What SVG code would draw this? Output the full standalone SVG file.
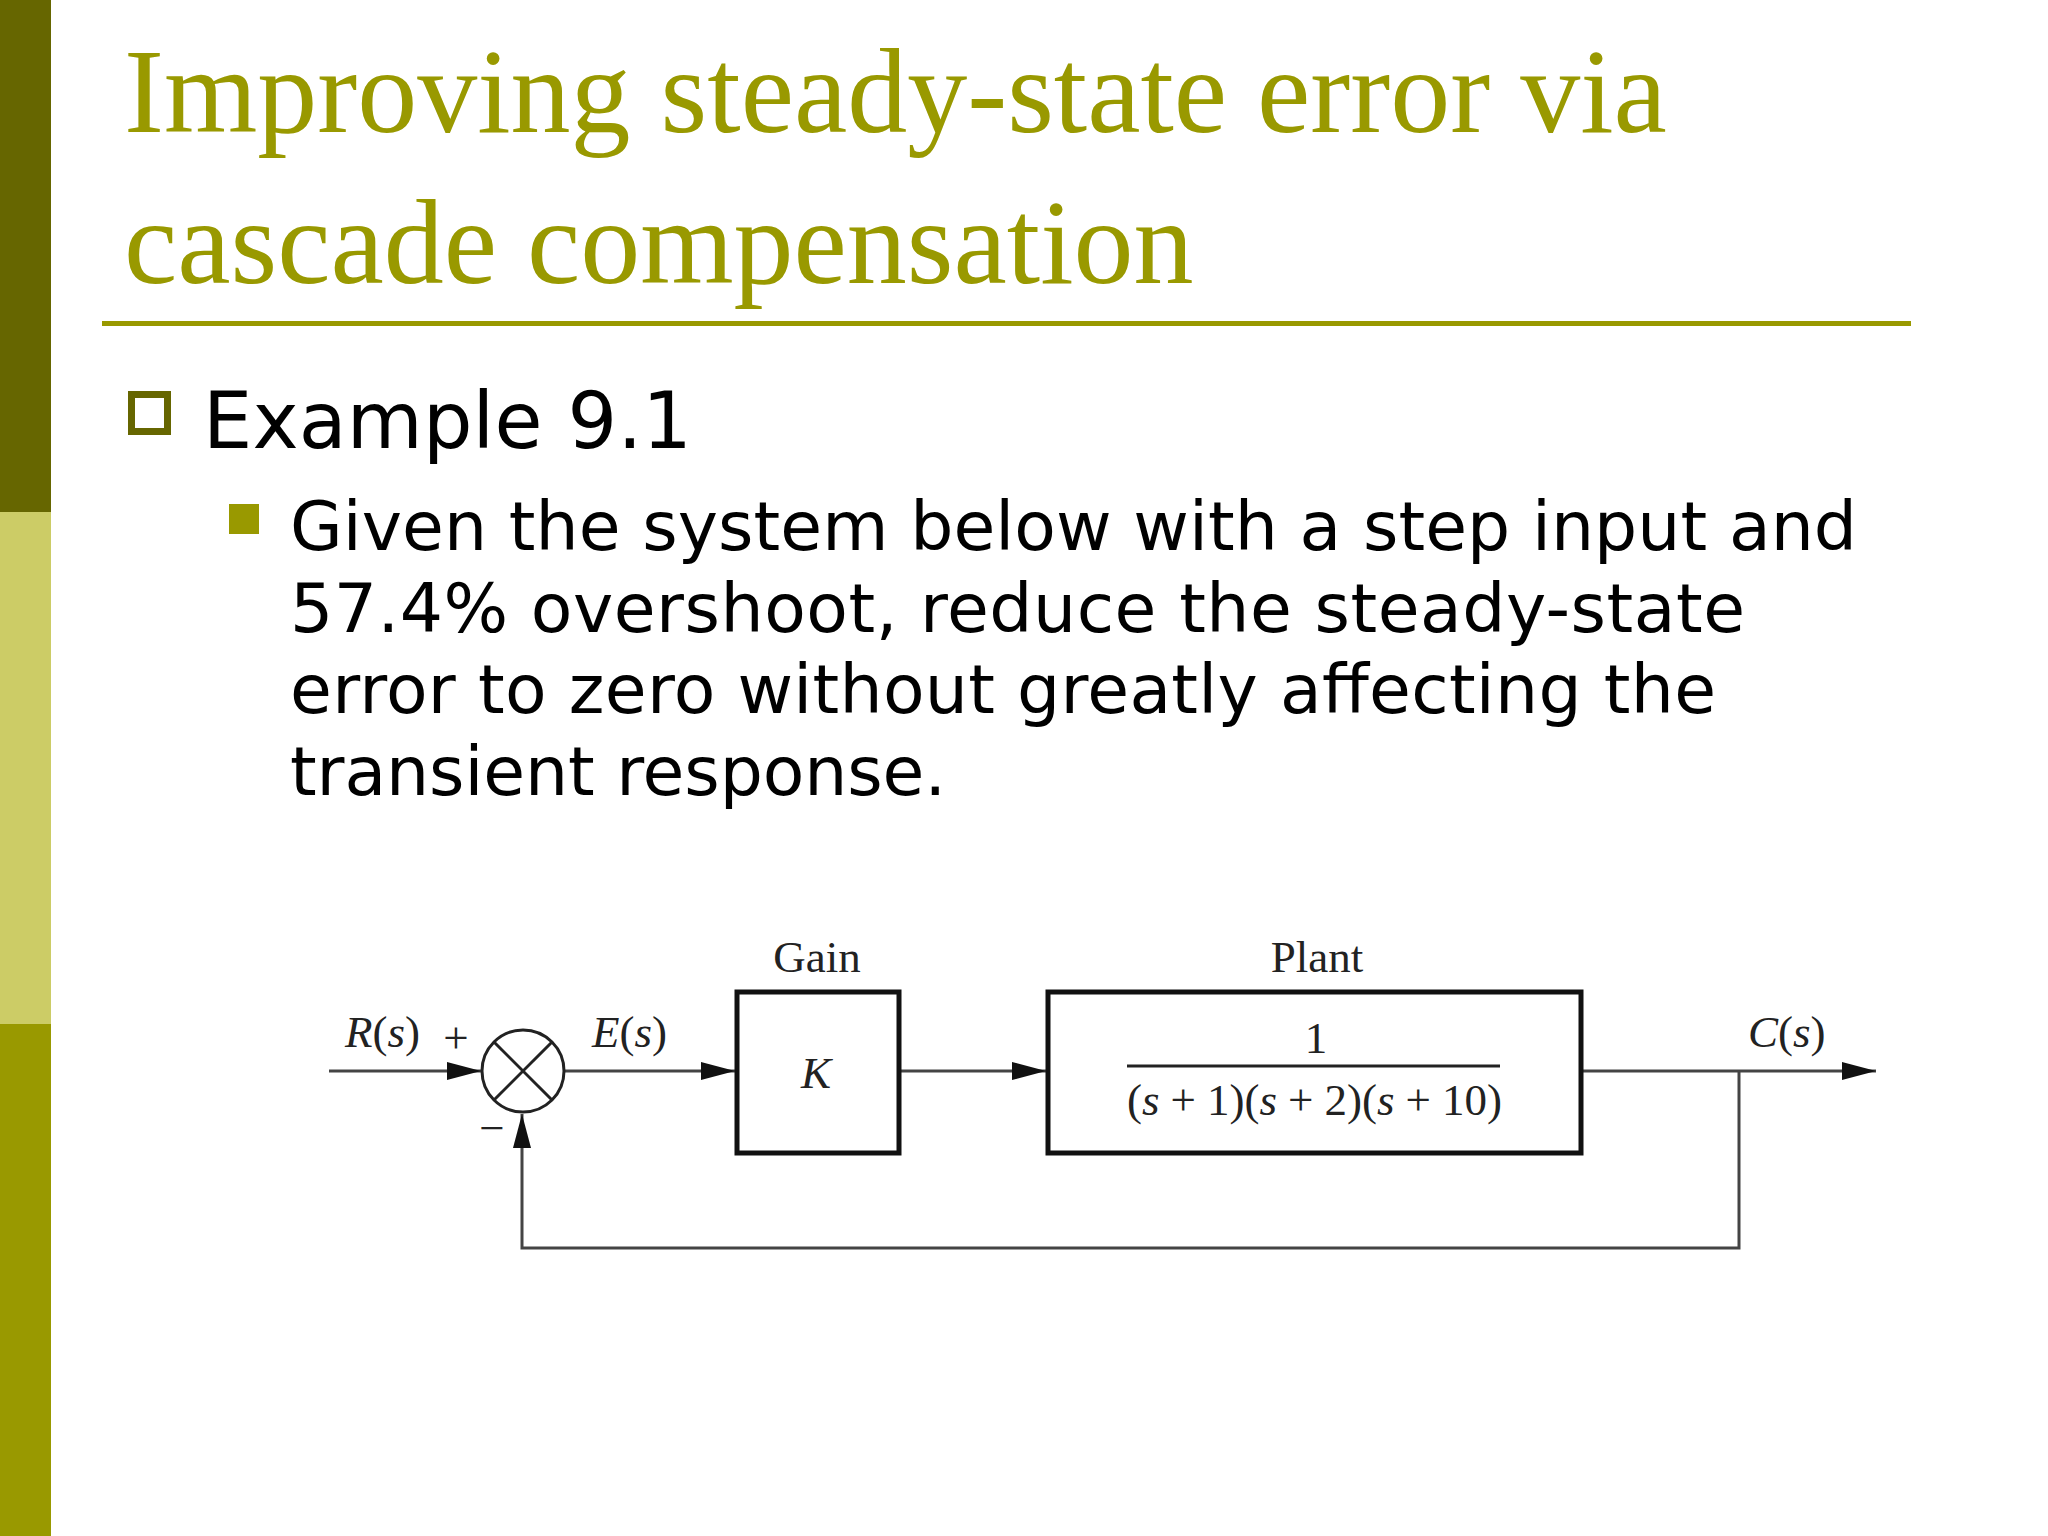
<svg xmlns="http://www.w3.org/2000/svg" width="2048" height="1536" viewBox="0 0 2048 1536">
<defs>
<style>
.title{font-family:"Liberation Serif","Times New Roman",serif;font-size:120px;fill:#999900}
.body{font-family:"DejaVu Sans",Verdana,sans-serif;fill:#000}
.dt{font-family:"Liberation Serif","Times New Roman",serif;font-size:45px;fill:#222}
.it{font-style:italic}
.wire{fill:none;stroke:#444;stroke-width:3}
.box{fill:#fff;stroke:#111;stroke-width:5}
</style>
<marker id="arr" viewBox="0 0 10 10" refX="10" refY="5" markerWidth="34" markerHeight="18" markerUnits="userSpaceOnUse" orient="auto" preserveAspectRatio="none">
<path d="M0,0 L10,5 L0,10 z" fill="#111"/>
</marker>
</defs>
<rect width="2048" height="1536" fill="#fff"/>
<g id="sidebar">
<rect x="0" y="0" width="51" height="512" fill="#666600"/>
<rect x="0" y="512" width="51" height="512" fill="#cccc66"/>
<rect x="0" y="1024" width="51" height="512" fill="#999900"/>
</g>
<g id="title">
<text class="title" x="124" y="132">Improving steady-state error via</text>
<text class="title" x="124" y="283">cascade compensation</text>
<rect x="102" y="321" width="1809" height="5" fill="#999900"/>
</g>
<g id="bullets">
<rect x="131.5" y="394.5" width="36" height="37" fill="none" stroke="#666600" stroke-width="7"/>
<text class="body" x="203" y="448" font-size="78" textLength="489">Example 9.1</text>
<rect x="229" y="504" width="30" height="30" fill="#999900"/>
<text class="body" x="290" y="550" font-size="68" textLength="1567">Given the system below with a step input and</text>
<text class="body" x="290" y="632" font-size="68" textLength="1455">57.4% overshoot, reduce the steady-state</text>
<text class="body" x="290" y="713" font-size="68" textLength="1426">error to zero without greatly affecting the</text>
<text class="body" x="290" y="795" font-size="68" textLength="656">transient response.</text>
</g>
<g id="connectors">
<line class="wire" x1="329" y1="1071" x2="481" y2="1071" marker-end="url(#arr)"/>
<line class="wire" x1="564" y1="1071" x2="735" y2="1071" marker-end="url(#arr)"/>
<line class="wire" x1="900" y1="1071" x2="1046" y2="1071" marker-end="url(#arr)"/>
<line class="wire" x1="1583" y1="1071" x2="1876" y2="1071" marker-end="url(#arr)"/>
<polyline class="wire" points="1739,1071 1739,1248 522,1248 522,1114" marker-end="url(#arr)"/>
</g>
<g id="sum">
<circle cx="523" cy="1071" r="41" fill="#fff" stroke="#222" stroke-width="3"/>
<line x1="494" y1="1042" x2="552" y2="1100" stroke="#222" stroke-width="3"/>
<line x1="552" y1="1042" x2="494" y2="1100" stroke="#222" stroke-width="3"/>
<text class="dt" x="456" y="1053" text-anchor="middle" font-size="40" fill="#777">+</text>
<text class="dt" x="492" y="1143" text-anchor="middle" font-size="40" fill="#666">−</text>
</g>
<g id="labels">
<text class="dt" x="345" y="1047"><tspan class="it">R</tspan>(<tspan class="it">s</tspan>)</text>
<text class="dt" x="592" y="1047"><tspan class="it">E</tspan>(<tspan class="it">s</tspan>)</text>
<text class="dt" x="1748" y="1047"><tspan class="it">C</tspan>(<tspan class="it">s</tspan>)</text>
</g>
<g id="gain">
<text class="dt" x="817" y="972" text-anchor="middle">Gain</text>
<rect class="box" x="737" y="992" width="162" height="161"/>
<text class="dt it" x="816" y="1088" text-anchor="middle" font-size="46">K</text>
</g>
<g id="plant">
<text class="dt" x="1317" y="972" text-anchor="middle">Plant</text>
<rect class="box" x="1048" y="992" width="533" height="161"/>
<text class="dt" x="1316" y="1053" text-anchor="middle">1</text>
<line x1="1127" y1="1066" x2="1500" y2="1066" stroke="#222" stroke-width="3"/>
<text class="dt" x="1127" y="1115" textLength="375">(<tspan class="it">s</tspan> + 1)(<tspan class="it">s</tspan> + 2)(<tspan class="it">s</tspan> + 10)</text>
</g>
</svg>
